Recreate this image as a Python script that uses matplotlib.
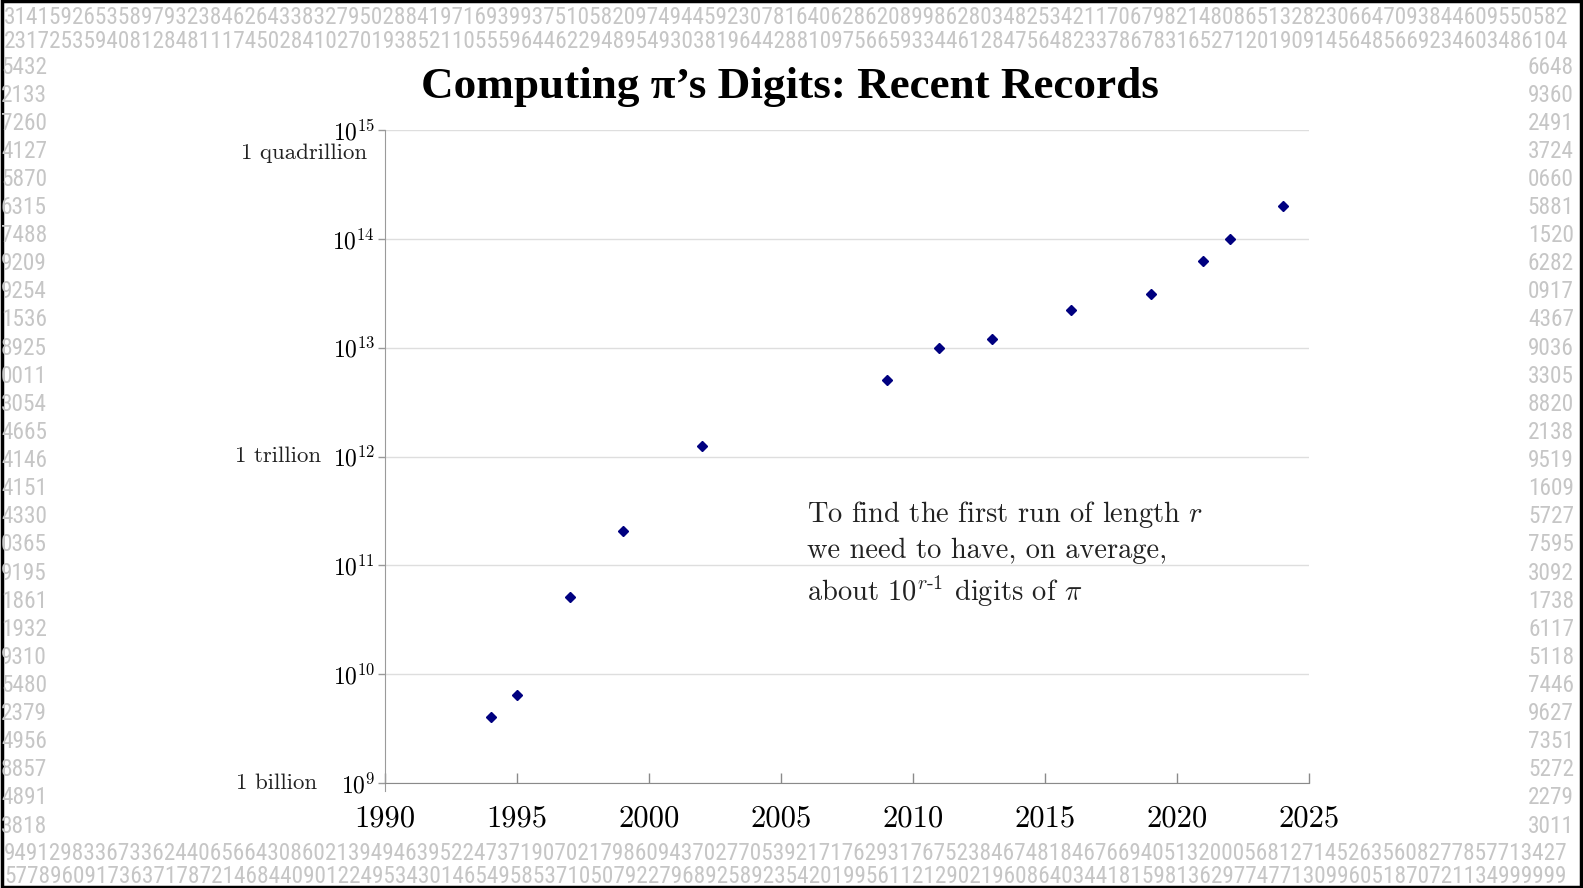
import matplotlib
matplotlib.use('Agg')
import matplotlib.pyplot as plt
from matplotlib.patches import Rectangle

# Digits of pi used as a decorative border
TOP_ROWS = [
    "3141592653589793238462643383279502884197169399375105820974944592307816406286208998628034825342117067982148086513282306647093844609550582",
    "2317253594081284811174502841027019385211055596446229489549303819644288109756659334461284756482337867831652712019091456485669234603486104",
]
SIDE_LEFT = ["5432", "2133", "7260", "4127", "5870", "6315", "7488", "9209", "9254", "1536",
             "8925", "0011", "3054", "4665", "4146", "4151", "4330", "0365", "9195", "1861",
             "1932", "9310", "5480", "2379", "4956", "8857", "4891", "3818"]
SIDE_RIGHT = ["6648", "9360", "2491", "3724", "0660", "5881", "1520", "6282", "0917", "4367",
              "9036", "3305", "8820", "2138", "9519", "1609", "5727", "7595", "3092", "1738",
              "6117", "5118", "7446", "9627", "7351", "5272", "2279", "3011"]
BOTTOM_ROWS = [
    "9491298336733624406566430860213949463952247371907021798609437027705392171762931767523846748184676694051320005681271452635608277857713427",
    "5778960917363717872146844090122495343014654958537105079227968925892354201995611212902196086403441815981362977477130996051870721134999999",
]

# Record computations of pi (year, number of digits)
years = [1994, 1995, 1997, 1999, 2002, 2009, 2011, 2013, 2016, 2019, 2021, 2022, 2024]
digits = [4.04e9, 6.44e9, 5.15e10, 2.06e11, 1.24e12, 5.0e12, 1.0e13, 1.21e13,
          2.24e13, 3.14e13, 6.28e13, 1.0e14, 2.02e14]

x_ticks = [1990, 1995, 2000, 2005, 2010, 2015, 2020, 2025]
y_exponents = [9, 10, 11, 12, 13, 14, 15]
named_powers = {15: '1 quadrillion', 12: '1 trillion', 9: '1 billion'}

W, H = 1583, 888
DIGIT_COLOR = '#c6c6c6'
DIGIT_FONT = ['Roboto Condensed', 'Roboto']

plt.rcParams['mathtext.fontset'] = 'cm'
plt.rcParams['axes.formatter.use_mathtext'] = True

fig = plt.figure(figsize=(W / 100, H / 100), dpi=100)
fig.patch.set_facecolor('white')


def fit_row(text, x0, x1, yc):
    # place a row of digits and scale it to span x0..x1 pixels
    t = fig.text(x0 / W, 1 - yc / H, text, fontsize=14, color=DIGIT_COLOR,
                 family=DIGIT_FONT, ha='left', va='center')
    r = fig.canvas.get_renderer()
    w = t.get_window_extent(r).width
    t.set_fontsize(14 * (x1 - x0) / w)
    return t


top_y = [17, 41]
bottom_y = [853, 876]
for row, yc in zip(TOP_ROWS, top_y):
    fit_row(row, 4, 1574, yc)
for row, yc in zip(BOTTOM_ROWS, bottom_y):
    fit_row(row, 4, 1574, yc)

side_size = fig.texts[0].get_fontsize()
side_top, side_bottom = 67, 826
n = len(SIDE_LEFT)
for i, (a, b) in enumerate(zip(SIDE_LEFT, SIDE_RIGHT)):
    yc = side_top + i * (side_bottom - side_top) / (n - 1)
    fig.text(1 / W, 1 - yc / H, a, fontsize=side_size, color=DIGIT_COLOR,
             family=DIGIT_FONT, ha='left', va='center')
    fig.text(1574 / W, 1 - yc / H, b, fontsize=side_size, color=DIGIT_COLOR,
             family=DIGIT_FONT, ha='right', va='center')

# black frame round the whole picture
fig.patches.append(Rectangle((0.001, 0.0015), 0.998, 0.997, transform=fig.transFigure,
                             fill=False, edgecolor='black', linewidth=2.5))

fig.text(0.499, 0.902, "Computing \u03c0\u2019s Digits: Recent Records", ha='center', va='center',
         fontsize=32.5, fontweight='bold', family=['Liberation Serif', 'DejaVu Serif'])

left, right = 385 / W, 1309 / W
bottom, top = 1 - 783 / H, 1 - 130 / H
ax = fig.add_axes([left, bottom, right - left, top - bottom])
ax.set_yscale('log')
ax.set_xlim(1990, 2025)
ax.set_ylim(1e9, 1e15)

for e in y_exponents:
    ax.axhline(10.0 ** e, color='#dedede', linewidth=1, zorder=0)

ax.plot(years, digits, linestyle='none', marker='D', markersize=5.5,
        color='#000080', zorder=3)

for s in ['top', 'right']:
    ax.spines[s].set_visible(False)
ax.spines['left'].set_color('#9a9a9a')
ax.spines['bottom'].set_color('#8a8a8a')
ax.spines['left'].set_bounds(10 ** 8.93, 1e15)

ax.set_xticks(x_ticks)
ax.set_xticklabels([str(v) for v in x_ticks], fontsize=22, family='cmr10')
ax.tick_params(axis='x', direction='in', length=7, width=1, color='#8a8a8a', pad=16)

ax.set_yticks([10.0 ** e for e in y_exponents])
ax.set_yticklabels([r'$10^{%d}$' % e for e in y_exponents], fontsize=17)
ax.yaxis.set_minor_locator(plt.NullLocator())
ax.tick_params(axis='y', direction='out', length=5, width=1, color='#9a9a9a', pad=2)

for e, name in named_powers.items():
    if e == 15:
        ax.annotate(name, xy=(0, 10.0 ** e), xycoords=('axes fraction', 'data'),
                    xytext=(-13, -17), textcoords='offset points', ha='right', va='center',
                    fontsize=16.5, family='cmr10', color='#222222')
    else:
        off = -46 if e == 12 else -49
        ax.annotate(name, xy=(0, 10.0 ** e), xycoords=('axes fraction', 'data'),
                    xytext=(off, 0), textcoords='offset points', ha='right', va='center',
                    fontsize=16.5, family='cmr10', color='#222222')

note = ("To find the first run of length $r$\n"
        "we need to have, on average,\n"
        "about $10^{r\\text{-}1}$ digits of $\\pi$")
ax.text(0.457, 0.435, note, transform=ax.transAxes, ha='left', va='top',
        fontsize=20.5, family='cmr10', linespacing=1.38, color='#222222')

fig.savefig('out.png', dpi=100, facecolor='white')
